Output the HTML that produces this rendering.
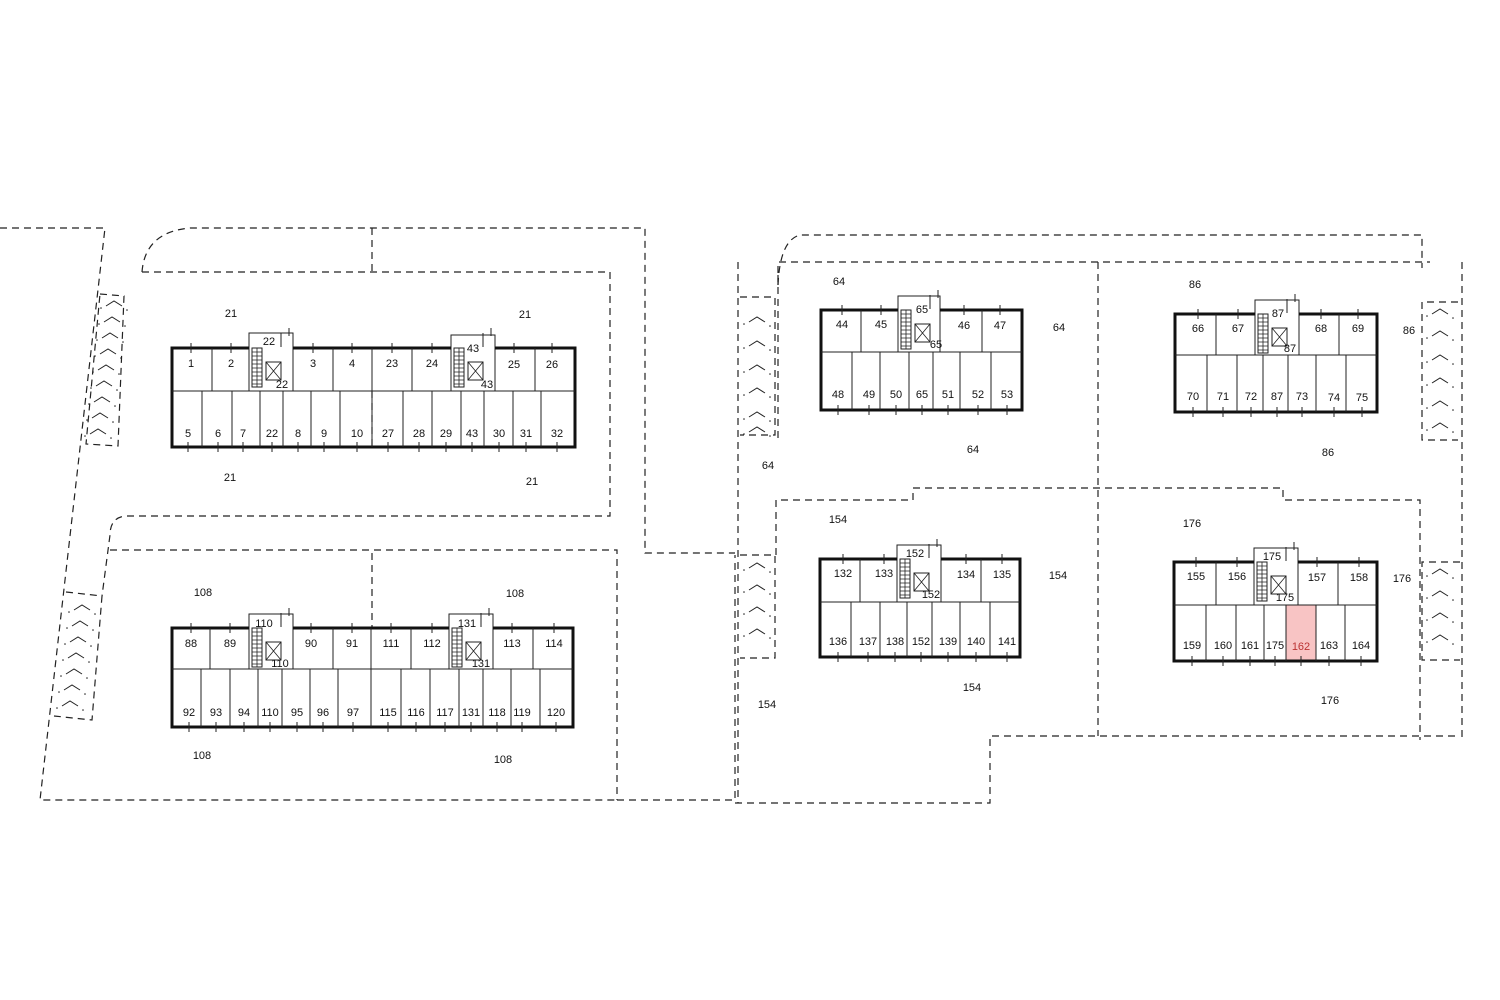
<!DOCTYPE html>
<html><head><meta charset="utf-8"><style>
html,body{margin:0;padding:0;background:#fff}
svg{display:block}
text{font-family:"Liberation Sans",sans-serif;font-size:11px;fill:#111;text-anchor:middle}
.d{fill:none;stroke:#222;stroke-width:1.2;stroke-dasharray:7 5}
.b{fill:none;stroke:#111;stroke-width:3}
.c{stroke:#222;stroke-width:1;fill:none}
</style></head><body>
<svg width="1500" height="1000" viewBox="0 0 1500 1000" xmlns="http://www.w3.org/2000/svg">
<defs>
<g id="st">
<rect x="3" y="0" width="10" height="39" fill="none" stroke="#222" stroke-width="1"/>
<path d="M3 4h10M3 8h10M3 12h10M3 16h10M3 20h10M3 24h10M3 28h10M3 32h10M3 36h10M8 0v39" stroke="#222" stroke-width="0.8"/>
<rect x="17" y="14" width="15" height="18" fill="none" stroke="#222" stroke-width="1"/>
<path d="M17 14l15 18M32 14l-15 18" stroke="#222" stroke-width="0.8"/>
<path d="M32 -15v14M40 -20v8" stroke="#222" stroke-width="1"/>
</g>
<g id="pk">
<path d="M-8 0l8 -5l8 5" fill="none" stroke="#222" stroke-width="1"/>
<circle cx="-13" cy="2" r="0.8" fill="#222"/><circle cx="13" cy="4" r="0.8" fill="#222"/>
</g>
</defs>

<!-- site dashed lines left -->
<path class="d" d="M0 228H105L40 800H617"/>
<path class="d" d="M142 272Q145 232 190 228H645V553H735"/>
<path class="d" d="M142 272H610V516H125Q110 518 110 535L102 596"/>
<path class="d" d="M110 550H617V800"/>
<path class="d" d="M372 228V272"/>
<path class="d" d="M372 553V628"/>
<path class="d" d="M372 391V447"/>
<path class="d" d="M617 800H735V555"/>
<path class="d" d="M735 803H990V736H1460"/>
<!-- parking strips left -->
<path class="d" d="M100 294L124 296L118 446L86 444Z"/>
<path class="d" d="M66 592L102 596L92 720L54 716"/>
<use href="#pk" x="114" y="306"/><use href="#pk" x="112" y="322"/><use href="#pk" x="110" y="338"/><use href="#pk" x="108" y="354"/><use href="#pk" x="106" y="370"/><use href="#pk" x="104" y="386"/><use href="#pk" x="102" y="402"/><use href="#pk" x="100" y="418"/><use href="#pk" x="98" y="434"/>
<use href="#pk" x="82" y="610"/><use href="#pk" x="80" y="626"/><use href="#pk" x="78" y="642"/><use href="#pk" x="76" y="658"/><use href="#pk" x="74" y="674"/><use href="#pk" x="72" y="690"/><use href="#pk" x="70" y="706"/>

<!-- site dashed lines right -->
<path class="d" d="M778 285Q780 240 800 235H1422V268"/>
<path class="d" d="M738 262V803"/>
<path class="d" d="M778 285V262H1430"/>
<path class="d" d="M778 275V440"/>
<path class="d" d="M1098 262V736"/>
<path class="d" d="M776 555V500H913V488H1283V500H1420V740"/>
<path class="d" d="M1462 262V740"/>
<path class="d" d="M740 297H775V435H740"/>
<path class="d" d="M740 555H775V658H740"/>
<path class="d" d="M1458 302H1422V440H1458"/>
<path class="d" d="M1460 562H1422V660H1460"/>
<use href="#pk" x="757" y="322"/><use href="#pk" x="757" y="346"/><use href="#pk" x="757" y="370"/><use href="#pk" x="757" y="393"/><use href="#pk" x="757" y="417"/><use href="#pk" x="757" y="432"/>
<use href="#pk" x="757" y="568"/><use href="#pk" x="757" y="590"/><use href="#pk" x="757" y="612"/><use href="#pk" x="757" y="634"/>
<use href="#pk" x="1440" y="314"/><use href="#pk" x="1440" y="336"/><use href="#pk" x="1440" y="360"/><use href="#pk" x="1440" y="383"/><use href="#pk" x="1440" y="406"/><use href="#pk" x="1440" y="428"/>
<use href="#pk" x="1440" y="574"/><use href="#pk" x="1440" y="596"/><use href="#pk" x="1440" y="618"/><use href="#pk" x="1440" y="640"/>

<!-- highlight -->
<rect x="1286" y="605" width="30" height="56" fill="#f8c4c4" stroke="#d77" stroke-width="1"/>

<!-- Building A -->
<rect x="249" y="333" width="44" height="58" fill="#fff" class="c"/>
<rect x="451" y="335" width="44" height="56" fill="#fff" class="c"/>
<path class="b" d="M249 348H172V447H575V348H495M451 348H293"/>
<path class="c" d="M172 391H575M212 348V391M333 348V391M372 348V447M412 348V391M535 348V391M202 391V447M232 391V447M260 391V447M283 391V447M311 391V447M340 391V447M403 391V447M432 391V447M461 391V447M484 391V447M513 391V447M541 391V447"/>
<use href="#st" x="249" y="348"/><use href="#st" x="451" y="348"/>
<text x="191" y="367">1</text><text x="231" y="367">2</text><text x="269" y="345">22</text><text x="282" y="388">22</text><text x="313" y="367">3</text><text x="352" y="367">4</text>
<text x="392" y="367">23</text><text x="432" y="367">24</text><text x="473" y="352">43</text><text x="487" y="388">43</text><text x="514" y="368">25</text><text x="552" y="368">26</text>
<text x="188" y="437">5</text><text x="218" y="437">6</text><text x="243" y="437">7</text><text x="272" y="437">22</text><text x="298" y="437">8</text><text x="324" y="437">9</text><text x="357" y="437">10</text>
<text x="388" y="437">27</text><text x="419" y="437">28</text><text x="446" y="437">29</text><text x="472" y="437">43</text><text x="499" y="437">30</text><text x="526" y="437">31</text><text x="557" y="437">32</text>
<text x="231" y="317">21</text><text x="525" y="318">21</text><text x="230" y="481">21</text><text x="532" y="485">21</text>

<!-- Building B -->
<rect x="249" y="614" width="44" height="55" fill="#fff" class="c"/>
<rect x="449" y="614" width="44" height="55" fill="#fff" class="c"/>
<path class="b" d="M249 628H172V727H573V628H493M449 628H293"/>
<path class="c" d="M172 669H573M210 628V669M333 628V669M371 628V727M411 628V669M533 628V669M201 669V727M230 669V727M258 669V727M282 669V727M310 669V727M338 669V727M401 669V727M430 669V727M459 669V727M483 669V727M511 669V727M540 669V727"/>
<use href="#st" x="249" y="628"/><use href="#st" x="449" y="628"/>
<text x="191" y="647">88</text><text x="230" y="647">89</text><text x="264" y="627">110</text><text x="280" y="667">110</text><text x="311" y="647">90</text><text x="352" y="647">91</text>
<text x="391" y="647">111</text><text x="432" y="647">112</text><text x="467" y="627">131</text><text x="481" y="667">131</text><text x="512" y="647">113</text><text x="554" y="647">114</text>
<text x="189" y="716">92</text><text x="216" y="716">93</text><text x="244" y="716">94</text><text x="270" y="716">110</text><text x="297" y="716">95</text><text x="323" y="716">96</text><text x="353" y="716">97</text>
<text x="388" y="716">115</text><text x="416" y="716">116</text><text x="445" y="716">117</text><text x="471" y="716">131</text><text x="497" y="716">118</text><text x="522" y="716">119</text><text x="556" y="716">120</text>
<text x="203" y="596">108</text><text x="515" y="597">108</text><text x="202" y="759">108</text><text x="503" y="763">108</text>

<!-- Building C -->
<rect x="898" y="296" width="42" height="56" fill="#fff" class="c"/>
<path class="b" d="M898 310H821V410H1022V310H940"/>
<path class="c" d="M821 352H1022M861 310V352M982 310V352M852 352V410M880 352V410M909 352V410M933 352V410M960 352V410M991 352V410"/>
<use href="#st" x="898" y="310"/>
<text x="842" y="328">44</text><text x="881" y="328">45</text><text x="922" y="313">65</text><text x="936" y="348">65</text><text x="964" y="329">46</text><text x="1000" y="329">47</text>
<text x="838" y="398">48</text><text x="869" y="398">49</text><text x="896" y="398">50</text><text x="922" y="398">65</text><text x="948" y="398">51</text><text x="978" y="398">52</text><text x="1007" y="398">53</text>
<text x="839" y="285">64</text><text x="1059" y="331">64</text><text x="973" y="453">64</text><text x="768" y="469">64</text>

<!-- Building D -->
<rect x="1255" y="300" width="44" height="55" fill="#fff" class="c"/>
<path class="b" d="M1255 314H1175V412H1377V314H1299"/>
<path class="c" d="M1175 355H1377M1216 314V355M1339 314V355M1207 355V412M1237 355V412M1263 355V412M1288 355V412M1316 355V412M1346 355V412"/>
<use href="#st" x="1255" y="314"/>
<text x="1198" y="332">66</text><text x="1238" y="332">67</text><text x="1278" y="317">87</text><text x="1290" y="352">87</text><text x="1321" y="332">68</text><text x="1358" y="332">69</text>
<text x="1193" y="400">70</text><text x="1223" y="400">71</text><text x="1251" y="400">72</text><text x="1277" y="400">87</text><text x="1302" y="400">73</text><text x="1334" y="401">74</text><text x="1362" y="401">75</text>
<text x="1195" y="288">86</text><text x="1409" y="334">86</text><text x="1328" y="456">86</text>

<!-- Building E -->
<rect x="897" y="545" width="44" height="57" fill="#fff" class="c"/>
<path class="b" d="M897 559H820V657H1020V559H941"/>
<path class="c" d="M820 602H1020M860 559V602M981 559V602M851 602V657M880 602V657M907 602V657M932 602V657M960 602V657M990 602V657"/>
<use href="#st" x="897" y="559"/>
<text x="843" y="577">132</text><text x="884" y="577">133</text><text x="915" y="557">152</text><text x="931" y="598">152</text><text x="966" y="578">134</text><text x="1002" y="578">135</text>
<text x="838" y="645">136</text><text x="868" y="645">137</text><text x="895" y="645">138</text><text x="921" y="645">152</text><text x="948" y="645">139</text><text x="976" y="645">140</text><text x="1007" y="645">141</text>
<text x="838" y="523">154</text><text x="1058" y="579">154</text><text x="972" y="691">154</text><text x="767" y="708">154</text>

<!-- Building F -->
<rect x="1254" y="548" width="44" height="57" fill="#fff" class="c"/>
<path class="b" d="M1254 562H1174V661H1377V562H1298"/>
<path class="c" d="M1174 605H1377M1216 562V605M1338 562V605M1206 605V661M1236 605V661M1264 605V661M1286 605V661M1316 605V661M1345 605V661"/>
<use href="#st" x="1254" y="562"/>
<text x="1196" y="580">155</text><text x="1237" y="580">156</text><text x="1272" y="560">175</text><text x="1285" y="601">175</text><text x="1317" y="581">157</text><text x="1359" y="581">158</text>
<text x="1192" y="649">159</text><text x="1223" y="649">160</text><text x="1250" y="649">161</text><text x="1275" y="649">175</text><text x="1301" y="650" style="fill:#b33">162</text><text x="1329" y="649">163</text><text x="1361" y="649">164</text>
<text x="1192" y="527">176</text><text x="1402" y="582">176</text><text x="1330" y="704">176</text>

<!-- ticks -->
<path class="c" d="M191 343v10M231 343v10M313 343v10M352 343v10M392 343v10M432 343v10M514 343v10M552 343v10M188 442v10M218 442v10M243 442v10M272 442v10M298 442v10M324 442v10M357 442v10M388 442v10M419 442v10M446 442v10M472 442v10M499 442v10M526 442v10M557 442v10
M191 623v10M230 623v10M311 623v10M352 623v10M391 623v10M432 623v10M512 623v10M554 623v10M189 722v10M216 722v10M244 722v10M270 722v10M297 722v10M323 722v10M353 722v10M388 722v10M416 722v10M445 722v10M471 722v10M497 722v10M522 722v10M556 722v10
M842 305v10M881 305v10M964 305v10M1000 305v10M838 405v10M869 405v10M896 405v10M922 405v10M948 405v10M978 405v10M1007 405v10
M1198 309v10M1238 309v10M1321 309v10M1358 309v10M1193 407v10M1223 407v10M1251 407v10M1277 407v10M1302 407v10M1334 407v10M1362 407v10
M843 554v10M884 554v10M966 554v10M1002 554v10M838 652v10M868 652v10M895 652v10M921 652v10M948 652v10M976 652v10M1007 652v10
M1196 557v10M1237 557v10M1317 557v10M1359 557v10M1192 656v10M1223 656v10M1250 656v10M1275 656v10M1301 656v10M1329 656v10M1361 656v10"/>
</svg>
</body></html>
